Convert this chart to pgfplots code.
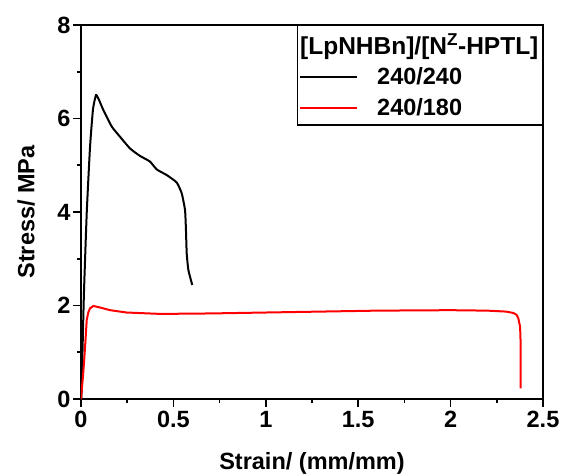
\documentclass[border=0pt]{standalone}
\usepackage{pgfplots}
\pgfplotsset{compat=1.18}
\usepackage{fontspec}
\setmainfont{Liberation Sans}
\newcommand{\bigf}{\fontsize{23.5}{27}\selectfont\bfseries}
\begin{document}
\begin{tikzpicture}
\path[use as bounding box] (-81pt,-76pt) rectangle (482pt,399pt);
\begin{axis}[
  scale only axis,
  width=462pt, height=374pt,
  xmin=0, xmax=2.5, ymin=0, ymax=8,
  xtick={0,0.5,1,1.5,2,2.5},
  xticklabels={0,0.5,1,1.5,2,2.5},
  ytick={0,2,4,6,8},
  minor x tick num=1, minor y tick num=1,
  xtick pos=left, ytick pos=left,
  tick align=outside,
  major tick length=8pt, minor tick length=4pt,
  tick style={line width=1.6pt, black},
  axis line style={line width=2pt},
  /pgf/number format/assume math mode=true,
  tick label style={font=\bigf},
  yticklabel style={xshift=1pt},
  xticklabel style={yshift=-1pt},
  label style={font=\bigf},
  xlabel={Strain/ (mm/mm)},
  ylabel={Stress/ MPa},
  xlabel style={at={(axis description cs:0.5,0)}, anchor=center, yshift=-64pt},
  ylabel style={at={(axis description cs:0,0.5)}, anchor=center, yshift=55pt},
  legend style={at={(rel axis cs:1,1)}, anchor=north east, font=\bigf,
    draw=black, line width=1.2pt, inner xsep=2pt, inner ysep=6pt,
    cells={anchor=west}, row sep=8pt},
  legend image code/.code={\draw[#1, line width=2pt] (0pt,0pt) -- (57pt,0pt);},
]
\addlegendimage{empty legend}
\addlegendentry{\hspace*{-60pt}{\fontsize{24.5}{27}\selectfont\bfseries [LpNHBn]/[N\textsuperscript{Z}-HPTL]}}
\addplot[black, line width=2pt, smooth, tension=0.3] coordinates {
(0.002,0) (0.008,1.0) (0.016,2.27) (0.031,3.98) (0.049,5.40) (0.065,6.2) (0.081,6.50)
(0.095,6.42) (0.121,6.18) (0.166,5.83) (0.211,5.61) (0.265,5.36) (0.319,5.20)
(0.373,5.08) (0.41,4.91) (0.464,4.79) (0.518,4.63) (0.545,4.40) (0.563,4.04)
(0.568,3.61) (0.572,3.12) (0.581,2.76) (0.602,2.44)
};
\addlegendentry{\hspace*{17pt}240/240}
\addplot[red, line width=2pt] coordinates {
(0,0) (0.004,0.2) (0.010,0.45) (0.016,0.76) (0.025,1.3) (0.031,1.69) (0.040,1.86)
(0.049,1.94) (0.067,1.99) (0.10,1.96) (0.157,1.90) (0.247,1.85) (0.43,1.82)
(0.70,1.83) (1.0,1.85) (1.3,1.87) (1.6,1.89) (2.0,1.90) (2.2,1.89) (2.30,1.87)
(2.34,1.84) (2.357,1.80) (2.366,1.73) (2.376,1.55) (2.379,1.2) (2.379,0.90) (2.379,0.23)
};
\addlegendentry{\hspace*{17pt}240/180}
\end{axis}
\end{tikzpicture}
\end{document}
